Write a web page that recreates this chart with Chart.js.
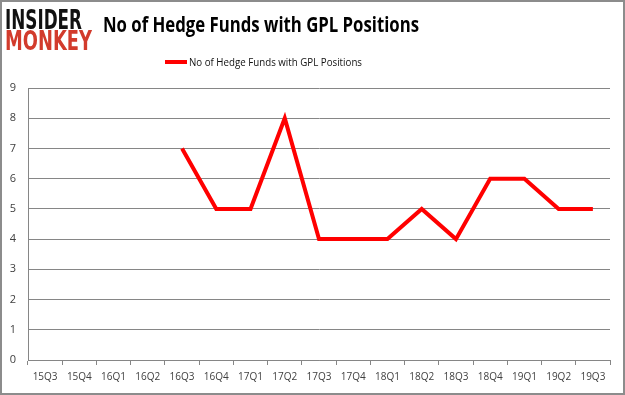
<!DOCTYPE html>
<html>
<head>
<meta charset="utf-8">
<script src="https://cdn.jsdelivr.net/npm/chart.js@4"></script>
<style>
  html, body { margin: 0; padding: 0; background: #fff; }
  #wrap { width: 625px; height: 395px; position: relative; }
</style>
</head>
<body>
<div id="wrap"><canvas id="chart" width="625" height="395"></canvas></div>
<script>
// Hedge fund counts per quarter for GPL
const quarters = ['15Q3', '15Q4', '16Q1', '16Q2', '16Q3', '16Q4', '17Q1', '17Q2', '17Q3',
    '17Q4', '18Q1', '18Q2', '18Q3', '18Q4', '19Q1', '19Q2', '19Q3'];
const fundCounts = [null, null, null, null, 7, 5, 5, 8, 4, 4, 4, 5, 4, 6, 6, 5, 5];
const yTicks = [0, 1, 2, 3, 4, 5, 6, 7, 8, 9];
const seriesName = 'No of Hedge Funds with GPL Positions';
const chartTitle = 'No of Hedge Funds with GPL Positions';

// draw text squeezed to a target width
function fitText(ctx, text, x, y, targetW, font) {
    ctx.font = font;
    const w = ctx.measureText(text).width;
    const sx = Math.min(1, targetW / w);
    ctx.save();
    ctx.translate(x, y);
    ctx.scale(sx, 1);
    ctx.fillText(text, 0, 0);
    ctx.restore();
}

const decorPlugin = {
    id: 'decor',
    beforeDraw(chart) {
        const ctx = chart.ctx;
        ctx.save();
        ctx.fillStyle = '#fff';
        ctx.fillRect(0, 0, chart.width, chart.height);
        ctx.strokeStyle = '#8c8c8c';
        ctx.lineWidth = 2;
        ctx.strokeRect(1, 1, chart.width - 2, chart.height - 2);
        ctx.restore();
    },
    afterDraw(chart) {
        const ctx = chart.ctx;
        ctx.save();
        ctx.textBaseline = 'alphabetic';
        ctx.textAlign = 'left';
        // logo
        ctx.fillStyle = '#111';
        fitText(ctx, 'INSIDER', 5, 29, 77, '900 27px "DejaVu Sans"');
        ctx.fillStyle = '#d23b2c';
        fitText(ctx, 'MONKEY', 5, 50, 87, '900 27px "DejaVu Sans"');
        // title
        ctx.fillStyle = '#000';
        fitText(ctx, chartTitle, 103, 32, 316, 'bold 21px "Open Sans"');
        // legend
        ctx.strokeStyle = '#ff0000';
        ctx.lineWidth = 4;
        ctx.beginPath();
        ctx.moveTo(165, 62);
        ctx.lineTo(187, 62);
        ctx.stroke();
        ctx.fillStyle = '#111';
        fitText(ctx, seriesName, 189, 66, 173, '11px "Open Sans"');
        ctx.restore();
    }
};

new Chart(document.getElementById('chart'), {
    type: 'line',
    data: {
        labels: quarters,
        datasets: [{
            label: seriesName,
            data: fundCounts,
            borderColor: '#ff0000',
            backgroundColor: '#ff0000',
            borderWidth: 4,
            pointRadius: 0,
            tension: 0,
            spanGaps: false
        }]
    },
    options: {
        responsive: false,
        animation: false,
        layout: { padding: { left: 0, right: 15, top: 88, bottom: 0 } },
        plugins: {
            legend: { display: false },
            title: { display: false },
            tooltip: { enabled: false }
        },
        scales: {
            x: {
                offset: true,
                grid: {
                    offset: true,
                    drawOnChartArea: false,
                    drawTicks: true,
                    tickLength: 5,
                    color: '#868686'
                },
                border: { color: '#868686', width: 1 },
                ticks: {
                    color: '#404040',
                    font: { family: 'Open Sans', size: 10 },
                    padding: 6,
                    maxRotation: 0,
                    autoSkip: false
                },
                afterFit(scale) { scale.height = 35; }
            },
            y: {
                min: 0,
                max: 9,
                afterBuildTicks(scale) { scale.ticks = yTicks.map(v => ({ value: v })); },
                grid: { color: '#868686', drawTicks: false, lineWidth: 1 },
                border: { color: '#868686', width: 1 },
                ticks: {
                    color: '#404040',
                    font: { family: 'Open Sans', size: 11 },
                    padding: 12
                },
                afterFit(scale) { scale.width = 28; }
            }
        }
    },
    plugins: [decorPlugin]
});
</script>
</body>
</html>
